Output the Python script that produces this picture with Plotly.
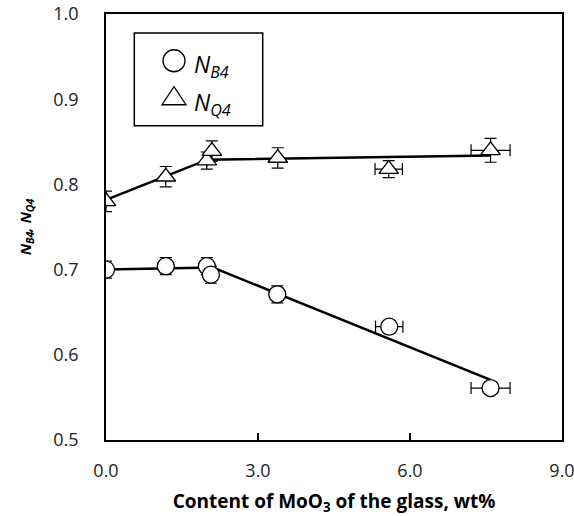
import plotly.graph_objects as go

# ---- data ----
mo_b4 = [0.0, 1.18, 1.99, 2.07, 3.38, 5.59, 7.59]
nb4 = [0.700, 0.704, 0.704, 0.694, 0.671, 0.633, 0.561]
nb4_err_y = [0.010, 0.010, 0.010, 0.010, 0.010, 0.005, 0.005]
nb4_err_x = [0.0, 0.0, 0.0, 0.0, 0.0, 0.27, 0.385]

mo_q4 = [0.0, 1.18, 1.99, 2.09, 3.39, 5.58, 7.59]
nq4 = [0.780, 0.809, 0.828, 0.839, 0.831, 0.818, 0.840]
nq4_err_y = [0.012, 0.012, 0.010, 0.012, 0.012, 0.010, 0.014]
nq4_err_x = [0.0, 0.0, 0.0, 0.0, 0.0, 0.27, 0.385]

# trend lines drawn in the reference
fit_b4_x = [0.0, 2.11, 7.59]
fit_b4_y = [0.700, 0.7024, 0.5705]
fit_q4_x = [0.0, 2.0, 7.59]
fit_q4_y = [0.782, 0.829, 0.834]

x_ticks = [0, 3, 6, 9]
x_ticklabels = ["0.0", "3.0", "6.0", "9.0"]
y_ticks = [0.5, 0.6, 0.7, 0.8, 0.9, 1.0]
y_ticklabels = ["0.5", "0.6", "0.7", "0.8", "0.9", "1.0"]

legend_labels = ["<i>N<sub>B4</sub></i>", "<i>N<sub>Q4</sub></i>"]

FONT = "Open Sans"

fig = go.Figure()

fig.add_trace(go.Scatter(x=fit_b4_x, y=fit_b4_y, mode="lines",
                         line=dict(color="black", width=2.5), showlegend=False, hoverinfo="skip"))
fig.add_trace(go.Scatter(x=fit_q4_x, y=fit_q4_y, mode="lines",
                         line=dict(color="black", width=2.5), showlegend=False, hoverinfo="skip"))

fig.add_trace(go.Scatter(
    x=mo_b4, y=nb4, mode="markers", name="N_B4", showlegend=False,
    marker=dict(symbol="circle", size=17, color="white", line=dict(color="black", width=1.3)),
    error_y=dict(type="data", array=nb4_err_y, color="black", thickness=1.2, width=6),
    error_x=dict(type="data", array=nb4_err_x, color="black", thickness=1.2, width=6),
))
fig.add_trace(go.Scatter(
    x=mo_q4, y=nq4, mode="markers", name="N_Q4", showlegend=False,
    marker=dict(symbol="triangle-up", size=17, color="white", line=dict(color="black", width=1.3)),
    error_y=dict(type="data", array=nq4_err_y, color="black", thickness=1.2, width=6),
    error_x=dict(type="data", array=nq4_err_x, color="black", thickness=1.2, width=6),
))

# ---- legend box drawn as in the reference ----
L, T, W, H = 106, 14.3, 456, 425.7
def px(xp):
    return (xp - L) / W
def py(yp):
    return (T + H - yp) / H

shapes = [
    dict(type="rect", xref="paper", yref="paper", x0=px(134.3), x1=px(262.7), y0=py(126), y1=py(33.3),
         line=dict(color="black", width=1.5), fillcolor="white", layer="above"),
    dict(type="circle", xref="paper", yref="paper", xsizemode="pixel", ysizemode="pixel",
         xanchor=px(174), yanchor=py(61), x0=-11, x1=11, y0=-11, y1=11,
         line=dict(color="black", width=1.3), fillcolor="white", layer="above"),
    dict(type="path", xref="paper", yref="paper", xsizemode="pixel", ysizemode="pixel",
         xanchor=px(174), yanchor=py(96), path="M-12,-9 L12,-9 L0,9 Z",
         line=dict(color="black", width=1.3), fillcolor="white", layer="above"),
]
annotations = [
    dict(xref="paper", yref="paper", x=px(192), y=py(66), xanchor="left", yanchor="middle",
         text=legend_labels[0], showarrow=False, font=dict(family=FONT, size=23, color="black")),
    dict(xref="paper", yref="paper", x=px(192), y=py(104), xanchor="left", yanchor="middle",
         text=legend_labels[1], showarrow=False, font=dict(family=FONT, size=23, color="black")),
]

fig.update_layout(
    width=574, height=516,
    margin=dict(l=106, r=12, t=14, b=76, autoexpand=False),
    plot_bgcolor="white", paper_bgcolor="white",
    font=dict(family=FONT, size=18, color="black"),
    shapes=shapes, annotations=annotations,
    showlegend=False,
    # overlay axis carrying only the short inward tick marks of the x axis
    xaxis2=dict(overlaying="x", side="bottom", range=[0, 9], tickvals=x_ticks,
                ticks="inside", ticklen=7, tickwidth=1.5, tickcolor="black",
                showticklabels=False, showgrid=False, zeroline=False, showline=False,
                automargin=False),
)
fig.update_xaxes(
    selector=dict(anchor="y"),
)
fig.layout.xaxis.update(
    range=[0, 9], tickvals=x_ticks, ticktext=x_ticklabels, automargin=False,
    ticklabeloverflow="allow",
    showline=True, linecolor="black", linewidth=1.5, mirror=True,
    ticks="outside", ticklen=14, tickwidth=1, tickcolor="rgba(0,0,0,0)",
    showgrid=False, zeroline=False,
    tickfont=dict(family=FONT, size=18, color="#222"),
    title=dict(text="<b>Content of MoO<sub>3</sub> of the glass, wt%</b>", standoff=16,
               font=dict(family=FONT, size=19, color="black")),
)
fig.layout.yaxis.update(
    range=[0.5, 1.0], tickvals=y_ticks, ticktext=y_ticklabels, automargin=False,
    ticklabeloverflow="allow",
    showline=True, linecolor="black", linewidth=1.5, mirror=True,
    ticks="outside", ticklen=22, tickwidth=1, tickcolor="rgba(0,0,0,0)",
    showgrid=False, zeroline=False,
    tickfont=dict(family=FONT, size=18, color="#222"),
    title=dict(text="<b><i>N<sub>B4</sub>, N<sub>Q4</sub></i></b>", standoff=18,
               font=dict(family=FONT, size=15, color="black")),
)
# a hidden helper trace so the overlay axis is drawn
fig.add_trace(go.Scatter(x=[None], y=[None], xaxis="x2", yaxis="y", showlegend=False,
                         hoverinfo="skip"))

fig.write_html("out.html")
